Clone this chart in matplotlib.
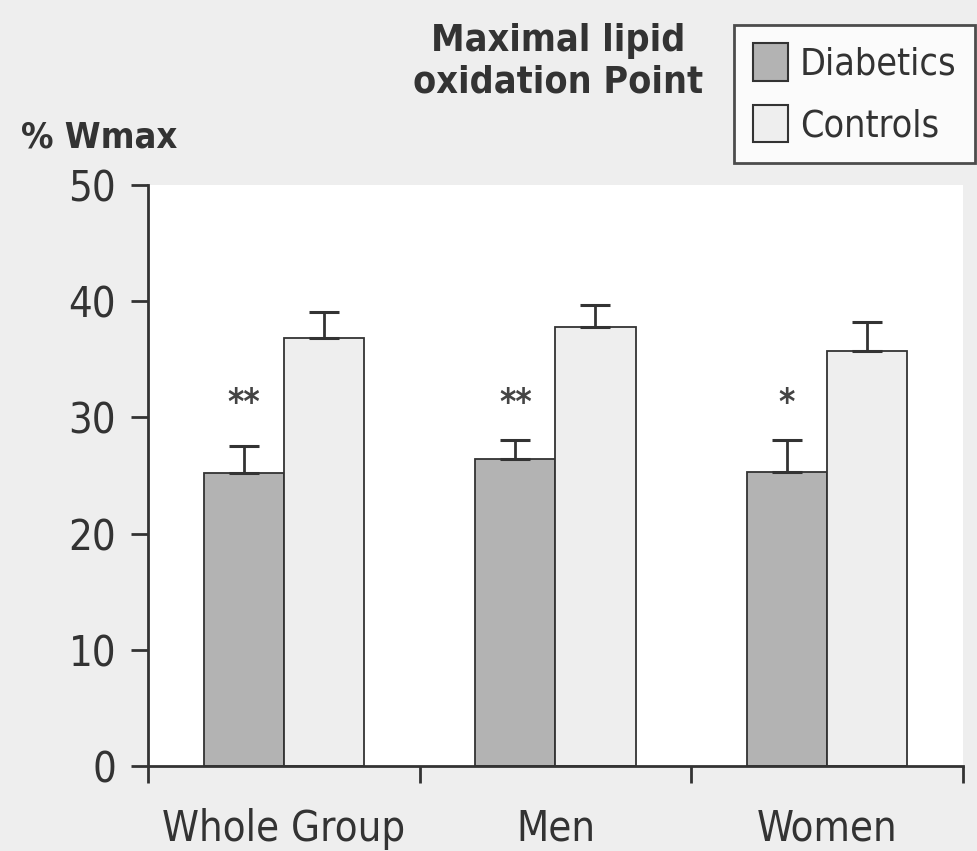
import matplotlib
matplotlib.use("Agg")
import matplotlib.pyplot as plt
from matplotlib.patches import Patch

plt.rcParams['font.family'] = ['DejaVu Sans']
plt.rcParams['font.stretch'] = 'condensed'

groups = ['Whole Group', 'Men', 'Women']
diabetics = [25.2, 26.4, 25.3]
diabetics_sem = [2.3, 1.65, 2.75]
controls = [36.8, 37.8, 35.7]
controls_sem = [2.3, 1.9, 2.5]
stars = ['**', '**', '*']

ink = '#333333'
bg = '#eeeeee'
fig = plt.figure(figsize=(9.77, 8.51), dpi=100, facecolor=bg)
ax = fig.add_axes([0.1515, 0.0999, 0.834, 0.6827])
ax.set_facecolor('white')

w = 0.295
centers = [i + 0.5 for i in range(len(groups))]
xd = [c - w / 2 for c in centers]
xc = [c + w / 2 for c in centers]

ax.bar(xd, diabetics, width=w, color='#b3b3b3', edgecolor=ink, linewidth=1.3)
ax.bar(xc, controls, width=w, color='#eeeeee', edgecolor=ink, linewidth=1.3)
ax.errorbar(xd, diabetics, yerr=[[0] * 3, diabetics_sem], fmt='none',
            ecolor=ink, elinewidth=2, capsize=11, capthick=2.2)
ax.errorbar(xc, controls, yerr=[[0] * 3, controls_sem], fmt='none',
            ecolor=ink, elinewidth=2, capsize=11, capthick=2.2)

# significance markers above the diabetic bars
for x, s in zip(xd, stars):
    ax.text(x, 31.2, s, ha='center', va='center', fontsize=25,
            fontweight='bold', color='#444444')

ax.set_xlim(0, 3)
ax.set_ylim(0, 50)
ax.set_yticks(range(0, 51, 10))
ax.set_xticks([0, 1, 2, 3])
ax.set_xticklabels([])
ax.set_xticks(centers, minor=True)
ax.set_xticklabels(groups, minor=True)
ax.tick_params(axis='x', which='minor', length=0, pad=30, labelsize=30,
               labelcolor=ink)
ax.tick_params(axis='x', which='major', length=12, width=2, color=ink)
ax.tick_params(axis='y', length=12, width=2, color=ink, labelsize=30,
               labelcolor=ink, pad=11)

for side in ['top', 'right']:
    ax.spines[side].set_visible(False)
for side in ['left', 'bottom']:
    ax.spines[side].set_linewidth(2)
    ax.spines[side].set_color(ink)

fig.text(0.021, 0.839, '% Wmax', fontsize=26, fontweight='bold',
         color=ink, va='center', ha='left')
fig.text(0.571, 0.927, 'Maximal lipid\noxidation Point', fontsize=27,
         fontweight='bold', color=ink, ha='center', va='center',
         linespacing=1.2)

handles = [Patch(facecolor='#b3b3b3', edgecolor=ink, linewidth=1.5, label='Diabetics'),
           Patch(facecolor='#eeeeee', edgecolor=ink, linewidth=1.5, label='Controls')]
leg = fig.legend(handles=handles, loc='upper right',
                 bbox_to_anchor=(0.998, 0.971), fontsize=27, frameon=True,
                 fancybox=False, edgecolor='#222222', facecolor='white',
                 handlelength=0.95, handleheight=1.15, handletextpad=0.3,
                 borderpad=0.5, labelspacing=0.6, borderaxespad=0)
leg.get_frame().set_linewidth(2)
for t in leg.get_texts():
    t.set_color(ink)

fig.savefig('out.png', dpi=100, facecolor=bg)
